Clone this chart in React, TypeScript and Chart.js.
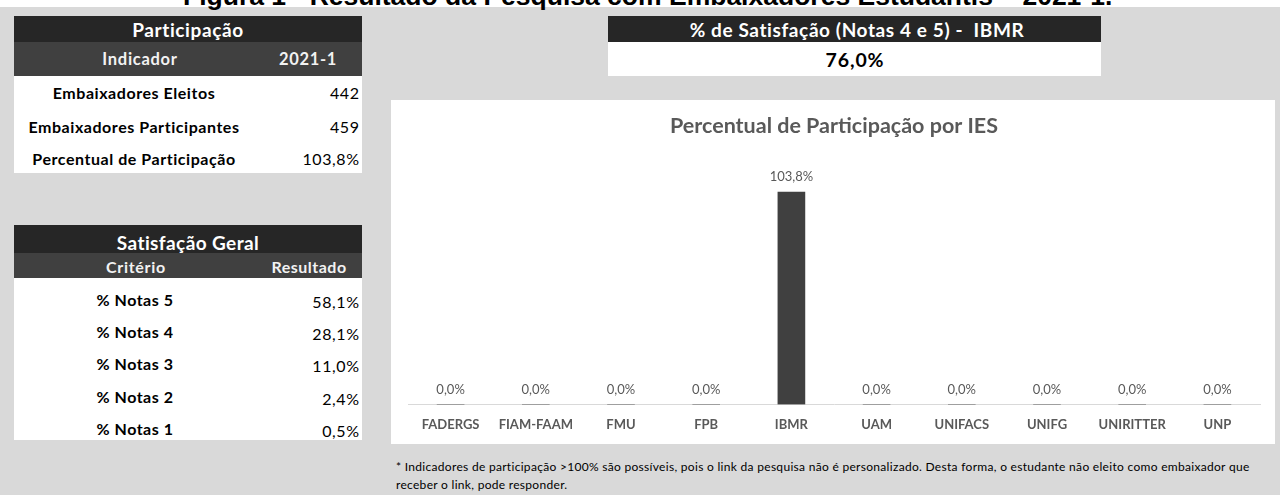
import React, { useEffect, useRef } from "react";
import { Chart, registerables } from "chart.js";

Chart.register(...registerables);

// ---------- data ----------
const pageTitle = "Figura 1 - Resultado da Pesquisa com Embaixadores Estudantis – 2021-1.";
const chartTitle = "Percentual de Participação por IES";
const categories = ["FADERGS", "FIAM-FAAM", "FMU", "FPB", "IBMR", "UAM", "UNIFACS", "UNIFG", "UNIRITTER", "UNP"];
const participation = [0, 0, 0, 0, 103.8, 0, 0, 0, 0, 0];

const participacaoTitle = "Participação";
const participacaoHeader = ["Indicador", "2021-1"];
const participacaoLabels = ["Embaixadores Eleitos", "Embaixadores Participantes", "Percentual de Participação"];
const participacaoValues = ["442", "459", "103,8%"];

const satisfacaoTitle = "Satisfação Geral";
const satisfacaoHeader = ["Critério", "Resultado"];
const satisfacaoLabels = ["% Notas 5", "% Notas 4", "% Notas 3", "% Notas 2", "% Notas 1"];
const satisfacaoValues = [58.1, 28.1, 11.0, 2.4, 0.5];

const ibmrTitle = "% de Satisfação (Notas 4 e 5) -  IBMR";
const ibmrValue = 76.0;

const footnote1 =
  "* Indicadores de participação >100% são possíveis, pois o link da pesquisa não é personalizado. Desta forma, o estudante não eleito como embaixador que";
const footnote2 = "receber o link, pode responder.";

const pct = (v: number) => v.toFixed(1).replace(".", ",") + "%";

// ---------- helpers ----------
const FONT = "Lato, 'Open Sans', sans-serif";

function Txt(props: {
  x: number;
  y: number;
  text: string;
  align?: "center" | "right" | "left";
  size?: number;
  bold?: boolean;
  color?: string;
  ls?: number;
}) {
  const { x, y, text, align = "center", size = 15, bold = false, color = "#000", ls = 0 } = props;
  const style: React.CSSProperties = {
    position: "absolute",
    top: y,
    whiteSpace: "pre",
    fontFamily: FONT,
    fontSize: size,
    fontWeight: bold ? 700 : 400,
    color,
    lineHeight: 1,
    letterSpacing: ls,
  };
  if (align === "center") {
    style.left = x;
    style.transform = "translate(-50%, -50%)";
  } else if (align === "right") {
    style.right = 1280 - x - ls;
    style.transform = "translateY(-50%)";
  } else {
    style.left = x;
    style.transform = "translateY(-50%)";
  }
  return <div style={style}>{text}</div>;
}

function Box(props: { x: number; y: number; w: number; h: number; bg: string }) {
  return (
    <div
      style={{
        position: "absolute",
        left: props.x,
        top: props.y,
        width: props.w,
        height: props.h,
        background: props.bg,
      }}
    />
  );
}

const valueLabels = {
  id: "valueLabels",
  afterDatasetsDraw(chart: any) {
    const ctx = chart.ctx;
    const meta = chart.getDatasetMeta(0);
    const data = chart.data.datasets[0].data as number[];
    ctx.save();
    ctx.font = "13px Lato";
    ctx.fillStyle = "#595959";
    ctx.textAlign = "center";
    ctx.textBaseline = "middle";
    meta.data.forEach((el: any, i: number) => {
      ctx.fillText(pct(data[i]), el.x, el.y - 15);
    });
    ctx.restore();
  },
};

function BarChart() {
  const ref = useRef<HTMLCanvasElement | null>(null);
  useEffect(() => {
    if (!ref.current) return;
    const chart = new Chart(ref.current, {
      type: "bar",
      data: {
        labels: categories,
        datasets: [
          {
            data: participation,
            backgroundColor: "#404040",
            barThickness: 27,
          },
        ],
      },
      options: {
        animation: false,
        responsive: false,
        maintainAspectRatio: false,
        layout: { padding: { left: 17, right: 15, top: 0, bottom: 0 } },
        plugins: {
          legend: { display: false },
          tooltip: { enabled: false },
          title: {
            display: true,
            text: chartTitle,
            color: "#595959",
            font: { family: "Lato", size: 21.5, weight: "bold" },
            padding: { top: 13.2, bottom: 19.9 },
          },
        },
        scales: {
          x: {
            grid: { display: false, drawTicks: false },
            border: { display: true, color: "#d9d9d9", width: 1 },
            ticks: {
              color: "#595959",
              font: { family: "Lato", size: 13, weight: "bold" },
              padding: 13,
              maxRotation: 0,
              autoSkip: false,
            },
          },
          y: { display: false, min: 0, max: 120 },
        },
      },
      plugins: [valueLabels],
    });
    return () => chart.destroy();
  }, []);
  return <canvas ref={ref} width={884} height={346} style={{ display: "block", width: 884, height: 346 }} />;
}

export default function App() {
  const rowY1 = [93, 127, 159];
  const rowY2 = [301, 333, 365, 398, 430];
  return (
    <div
      style={{
        position: "fixed",
        left: 0,
        top: 0,
        width: 1280,
        height: 495,
        overflow: "hidden",
        background: "#d9d9d9",
      }}
    >
      <Box x={0} y={0} w={1280} h={7} bg="#ffffff" />
      <div
        style={{
          position: "absolute",
          left: 183,
          top: -17.4,
          fontFamily: "'Liberation Sans', Arial, sans-serif",
          fontWeight: 700,
          fontSize: 26.5,
          lineHeight: 1,
          whiteSpace: "nowrap",
          color: "#000",
        }}
      >
        {pageTitle}
      </div>

      {/* Participação table */}
      <Box x={14} y={16} w={348} h={26} bg="#262626" />
      <Box x={14} y={42} w={348} h={34} bg="#404040" />
      <Box x={14} y={76} w={348} h={97} bg="#ffffff" />
      <Txt x={188} y={29} text={participacaoTitle} bold size={19} ls={0.6} color="#ffffff" />
      <Txt x={140} y={59} text={participacaoHeader[0]} bold size={16.5} ls={0.7} color="#f2f2f2" />
      <Txt x={308} y={59} text={participacaoHeader[1]} bold size={16.5} ls={0.7} color="#f2f2f2" />
      {participacaoLabels.map((l, i) => (
        <Txt key={"pl" + i} x={134} y={rowY1[i]} text={l} bold size={16} ls={0.55} />
      ))}
      {participacaoValues.map((v, i) => (
        <Txt key={"pv" + i} x={359} y={rowY1[i]} text={v} align="right" size={16} ls={0.6} />
      ))}

      {/* Satisfação Geral table */}
      <Box x={14} y={225} w={348} h={28} bg="#262626" />
      <Box x={14} y={253} w={348} h={25} bg="#404040" />
      <Box x={14} y={278} w={348} h={162} bg="#ffffff" />
      <Txt x={188} y={242} text={satisfacaoTitle} bold size={19} ls={0.4} color="#ffffff" />
      <Txt x={136} y={267} text={satisfacaoHeader[0]} bold size={16} ls={0.7} color="#f2f2f2" />
      <Txt x={309} y={267} text={satisfacaoHeader[1]} bold size={16} ls={0.5} color="#f2f2f2" />
      {satisfacaoLabels.map((l, i) => (
        <Txt key={"sl" + i} x={135} y={rowY2[i] - 1} text={l} bold size={16} ls={0.5} />
      ))}
      {satisfacaoValues.map((v, i) => (
        <Txt key={"sv" + i} x={359} y={rowY2[i] + 1} text={pct(v)} align="right" size={16} ls={0.6} />
      ))}

      {/* IBMR satisfaction box */}
      <Box x={608} y={16} w={493} h={26} bg="#262626" />
      <Box x={608} y={42} w={493} h={34} bg="#ffffff" />
      <Txt x={857} y={29} text={ibmrTitle} bold size={19} ls={0.6} color="#ffffff" />
      <Txt x={855} y={60} text={pct(ibmrValue)} bold size={19.5} ls={0.9} />

      {/* chart */}
      <div
        style={{
          position: "absolute",
          left: 391,
          top: 100,
          width: 884,
          height: 344,
          background: "#ffffff",
          overflow: "hidden",
        }}
      >
        <BarChart />
      </div>

      {/* footnote */}
      <Txt x={396} y={467} text={footnote1} align="left" size={12} ls={0.3} />
      <Txt x={396} y={485} text={footnote2} align="left" size={12} ls={0.3} />
    </div>
  );
}
